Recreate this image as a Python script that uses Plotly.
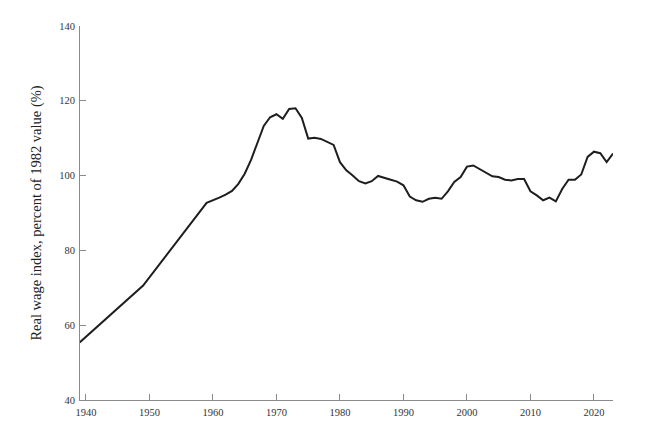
import plotly.graph_objects as go

years = [1939, 1949, 1959, 1960, 1961, 1962, 1963, 1964, 1965, 1966, 1967, 1968, 1969,
         1970, 1971, 1972, 1973, 1974, 1975, 1976, 1977, 1978, 1979,
         1980, 1981, 1982, 1983, 1984, 1985, 1986, 1987, 1988, 1989,
         1990, 1991, 1992, 1993, 1994, 1995, 1996, 1997, 1998, 1999,
         2000, 2001, 2002, 2003, 2004, 2005, 2006, 2007, 2008, 2009,
         2010, 2011, 2012, 2013, 2014, 2015, 2016, 2017, 2018, 2019,
         2020, 2021, 2022, 2023]
wage_index = [55.4, 70.6, 92.7, 93.3, 94.1, 94.9, 95.9, 97.8, 100.5, 104.2, 109.0, 113.3, 115.6,
              116.4, 115.2, 117.8, 118.0, 115.4, 109.9, 110.1, 109.8, 109.0, 108.2,
              103.6, 101.4, 100.0, 98.5, 97.9, 98.5, 99.9, 99.3, 98.9, 98.4,
              97.4, 94.4, 93.4, 93.0, 93.8, 94.1, 93.8, 95.8, 98.3, 99.6,
              102.4, 102.7, 101.8, 100.8, 99.8, 99.6, 98.9, 98.7, 99.1, 99.1,
              95.8, 94.7, 93.4, 94.1, 93.1, 96.4, 98.9, 98.9, 100.3, 105.0,
              106.4, 106.0, 103.6, 105.9]

x_ticks = [1940, 1950, 1960, 1970, 1980, 1990, 2000, 2010, 2020]
y_ticks = [40, 60, 80, 100, 120, 140]
y_title = "Real wage index, percent of 1982 value (%)"

FONT = "Liberation Serif"

fig = go.Figure()
fig.add_trace(go.Scatter(x=years, y=wage_index, mode="lines",
                         line=dict(color="#1e1e1e", width=2), showlegend=False))

axis_common = dict(showgrid=False, zeroline=False, showline=True, linecolor="#8a8a8a",
                   linewidth=1, ticks="inside", ticklen=6, tickcolor="#8a8a8a",
                   tickwidth=1, tickfont=dict(family=FONT, size=10.5, color="#333333"))

fig.update_layout(
    width=650, height=431,
    margin=dict(l=72, r=45, t=18, b=39),
    paper_bgcolor="white", plot_bgcolor="white",
    font=dict(family=FONT),
    xaxis=dict(range=[1939.06, 2023.0], tickvals=x_ticks, ticklabelstandoff=2, **axis_common),
    yaxis=dict(range=[40, 140], tickvals=y_ticks, ticklabelstandoff=2,
               title=dict(text=y_title, font=dict(family=FONT, size=14.5, color="#222222"),
                          standoff=14),
               **axis_common),
)

fig.write_html("out.html")
